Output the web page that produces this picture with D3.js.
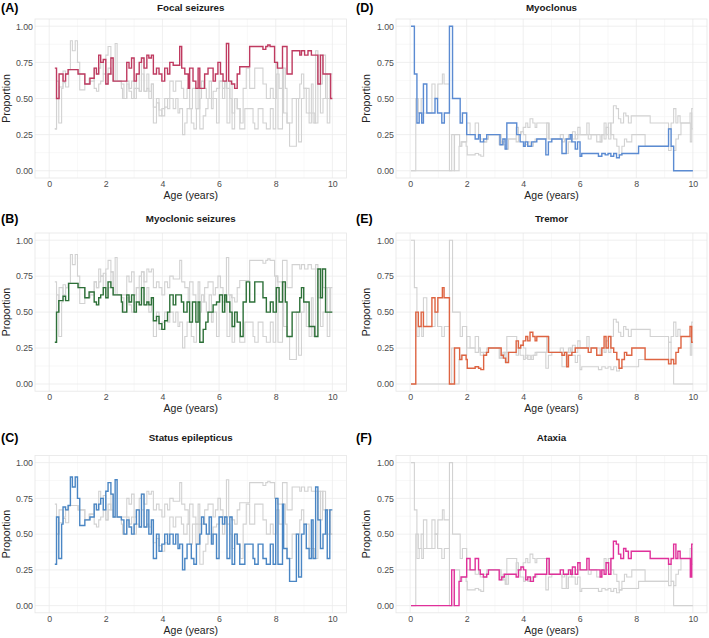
<!DOCTYPE html>
<html><head><meta charset="utf-8">
<script src="https://cdn.jsdelivr.net/npm/d3@7"></script>
<style>
html,body{margin:0;padding:0;background:#fff;}
svg{display:block;font-family:"Liberation Sans",Arial,sans-serif;}
</style></head>
<body><svg id="c" width="709" height="638"></svg>
<script>
// ---------- data (step series: value holds from age until next age) ----------
const focalAge = [0.20,0.26,0.35,0.49,0.58,0.67,1.02,1.26,1.44,1.59,1.67,1.75,1.82,1.91,2.00,2.08,2.18,2.26,2.74,2.82,2.91,3.00,3.08,3.18,3.26,3.35,3.45,3.52,3.61,3.68,3.79,3.88,3.98,4.08,4.18,4.26,4.38,4.61,4.68,4.79,4.91,4.96,5.08,5.18,5.26,5.32,5.49,5.61,5.79,5.87,5.96,6.05,6.14,6.26,6.34,6.44,6.55,6.64,6.73,7.08,7.55,7.65,7.72,7.80,7.96,8.06,8.24,8.40,8.58,8.85,8.91,9.02,9.14,9.26,9.49,9.58,9.67,9.76,9.94];
const focalVal = [0.71,0.50,0.67,0.62,0.67,0.70,0.67,0.60,0.64,0.71,0.67,0.80,0.75,0.77,0.60,0.67,0.78,0.62,0.75,0.71,0.78,0.62,0.67,0.75,0.78,0.71,0.80,0.78,0.80,0.67,0.71,0.67,0.62,0.71,0.67,0.75,0.73,0.86,0.71,0.67,0.57,0.71,0.62,0.57,0.71,0.57,0.67,0.71,0.62,0.67,0.75,0.67,0.62,0.88,0.62,0.60,0.57,0.67,0.72,0.86,0.84,0.86,0.87,0.86,0.75,0.71,0.86,0.67,0.83,0.80,0.83,0.80,0.83,0.80,0.60,0.80,0.67,0.67,0.50];

const myoSzAge = [0.20,0.26,0.34,0.49,0.58,0.69,1.02,1.26,1.41,1.59,1.67,1.75,1.82,1.91,2.00,2.08,2.18,2.26,2.55,2.59,2.74,2.82,2.91,3.00,3.08,3.18,3.26,3.35,3.45,3.52,3.61,3.68,3.79,3.88,3.98,4.08,4.18,4.26,4.38,4.47,4.67,4.75,4.87,4.96,5.06,5.18,5.26,5.32,5.44,5.53,5.61,5.79,5.91,6.02,6.12,6.20,6.26,6.38,6.46,6.55,6.64,6.75,6.85,6.96,7.08,7.26,7.55,7.67,7.81,7.91,8.02,8.12,8.24,8.34,8.40,8.58,8.85,8.91,8.99,9.18,9.38,9.49,9.58,9.65,9.76];
const myoSzVal = [0.29,0.50,0.58,0.61,0.58,0.70,0.67,0.60,0.64,0.57,0.55,0.60,0.62,0.67,0.60,0.71,0.67,0.62,0.57,0.50,0.62,0.57,0.62,0.50,0.57,0.55,0.67,0.55,0.57,0.55,0.60,0.44,0.47,0.42,0.38,0.44,0.50,0.62,0.55,0.62,0.57,0.50,0.57,0.43,0.57,0.43,0.57,0.29,0.38,0.43,0.50,0.55,0.57,0.62,0.50,0.62,0.57,0.50,0.40,0.50,0.43,0.33,0.57,0.71,0.57,0.71,0.60,0.50,0.57,0.50,0.67,0.57,0.71,0.57,0.33,0.50,0.60,0.67,0.57,0.40,0.33,0.80,0.60,0.80,0.50];

const statusAge = [0.20,0.26,0.34,0.44,0.49,0.58,0.67,0.75,0.82,0.92,1.00,1.08,1.26,1.44,1.59,1.67,1.75,1.82,1.91,2.00,2.08,2.18,2.26,2.33,2.40,2.55,2.64,2.74,2.82,2.91,3.00,3.08,3.18,3.26,3.35,3.45,3.52,3.61,3.68,3.79,3.88,3.98,4.08,4.18,4.26,4.38,4.47,4.55,4.61,4.71,4.79,4.87,5.02,5.11,5.20,5.32,5.38,5.46,5.55,5.65,5.73,5.79,5.91,6.00,6.12,6.20,6.28,6.38,6.46,6.55,6.64,6.73,6.91,7.20,7.26,7.38,7.55,7.67,7.81,7.91,8.00,8.08,8.24,8.28,8.40,8.49,8.73,8.81,8.91,9.00,9.08,9.18,9.26,9.32,9.41,9.49,9.58,9.67,9.76,9.82,9.91];
const statusVal = [0.29,0.62,0.33,0.57,0.69,0.67,0.70,0.90,0.83,0.90,0.75,0.56,0.60,0.62,0.71,0.67,0.71,0.75,0.67,0.80,0.86,0.78,0.62,0.88,0.62,0.60,0.50,0.60,0.55,0.50,0.57,0.67,0.55,0.78,0.55,0.67,0.50,0.60,0.33,0.50,0.38,0.43,0.50,0.43,0.50,0.43,0.50,0.40,0.43,0.25,0.33,0.43,0.33,0.29,0.43,0.50,0.62,0.57,0.50,0.62,0.43,0.50,0.33,0.62,0.57,0.62,0.33,0.62,0.29,0.50,0.43,0.29,0.43,0.33,0.29,0.43,0.33,0.29,0.43,0.29,0.75,0.29,0.71,0.40,0.33,0.17,0.50,0.20,0.50,0.57,0.40,0.33,0.60,0.33,0.83,0.60,0.40,0.50,0.67,0.33,0.67];

const myoclonusAge = [0.03,0.15,0.24,0.32,0.41,0.47,0.59,0.88,0.97,1.12,1.21,1.39,1.50,1.77,1.85,2.00,2.30,2.42,2.48,2.60,2.71,3.18,3.28,3.36,3.42,3.77,3.89,4.01,4.07,4.16,4.30,4.48,4.80,4.89,5.01,5.37,5.52,5.66,5.72,5.84,5.92,6.01,6.07,6.66,6.78,6.90,7.00,7.10,7.20,7.30,7.40,7.49,8.08,9.14,9.23,9.32];
const myoclonusVal = [1.00,0.67,0.33,0.40,0.33,0.60,0.40,0.50,0.40,0.33,0.40,1.00,0.50,0.33,0.40,0.25,0.22,0.25,0.20,0.22,0.25,0.18,0.22,0.15,0.33,0.25,0.20,0.17,0.20,0.17,0.20,0.22,0.11,0.20,0.22,0.12,0.22,0.25,0.20,0.15,0.20,0.10,0.12,0.10,0.12,0.11,0.12,0.10,0.12,0.09,0.11,0.12,0.17,0.29,0.17,0.00];

const tremorAge = [0.03,0.20,0.29,0.39,0.47,0.77,0.88,0.98,1.14,1.20,1.39,1.57,1.75,1.83,1.98,2.02,2.30,2.42,2.50,2.60,2.70,2.77,3.22,3.30,3.38,3.48,3.75,3.83,3.91,4.00,4.09,4.16,4.24,4.34,4.42,4.48,4.89,5.37,5.46,5.54,5.60,5.72,5.84,6.30,6.40,6.60,6.78,6.86,6.93,7.01,7.10,7.20,7.31,7.39,7.49,7.58,7.66,7.84,8.31,9.14,9.23,9.32,9.40,9.49,9.58,9.90,9.96];
const tremorVal = [0.00,0.50,0.40,0.50,0.40,0.60,0.50,0.60,0.67,0.60,0.00,0.25,0.17,0.20,0.17,0.11,0.12,0.11,0.10,0.20,0.22,0.25,0.20,0.18,0.15,0.22,0.30,0.25,0.27,0.30,0.33,0.30,0.36,0.33,0.30,0.33,0.22,0.20,0.22,0.12,0.20,0.22,0.25,0.22,0.25,0.20,0.25,0.33,0.25,0.33,0.25,0.22,0.17,0.11,0.17,0.22,0.20,0.25,0.17,0.14,0.17,0.14,0.22,0.25,0.33,0.40,0.29];

const ataxiaAge = [0.03,1.47,1.56,1.73,1.80,2.00,2.12,2.30,2.42,2.48,2.59,2.71,2.77,3.15,3.24,3.33,3.75,3.83,3.92,4.01,4.09,4.16,4.25,4.36,4.42,4.83,4.92,5.31,5.42,5.60,5.68,5.74,5.84,5.93,6.01,6.25,6.33,6.72,6.78,6.86,6.93,7.02,7.10,7.19,7.29,7.37,7.45,7.55,7.63,7.72,7.82,8.49,9.14,9.23,9.32,9.40,9.47,9.55,9.91,9.96];
const ataxiaVal = [0.00,0.25,0.00,0.17,0.20,0.33,0.25,0.33,0.25,0.22,0.20,0.22,0.25,0.18,0.20,0.22,0.20,0.25,0.27,0.25,0.18,0.20,0.17,0.20,0.22,0.33,0.22,0.25,0.22,0.25,0.22,0.27,0.22,0.30,0.25,0.33,0.25,0.20,0.25,0.22,0.30,0.22,0.33,0.45,0.43,0.36,0.33,0.40,0.38,0.33,0.38,0.33,0.29,0.33,0.43,0.33,0.38,0.33,0.20,0.43];

const xTicks = [0,2,4,6,8,10];
const yTicks = [0,0.25,0.5,0.75,1];

const panels = [
  {tag:"(A)", title:"Focal seizures",       col:0,row:0, group:["focal","myoSz","status"],      hi:"focal",     color:"#bf3a60"},
  {tag:"(B)", title:"Myoclonic seizures",   col:0,row:1, group:["focal","myoSz","status"],      hi:"myoSz",     color:"#2d7038"},
  {tag:"(C)", title:"Status epilepticus",   col:0,row:2, group:["focal","myoSz","status"],      hi:"status",    color:"#4a86c4"},
  {tag:"(D)", title:"Myoclonus",            col:1,row:0, group:["myoclonus","tremor","ataxia"], hi:"myoclonus", color:"#5b8bd2"},
  {tag:"(E)", title:"Tremor",               col:1,row:1, group:["myoclonus","tremor","ataxia"], hi:"tremor",    color:"#de6442"},
  {tag:"(F)", title:"Ataxia",               col:1,row:2, group:["myoclonus","tremor","ataxia"], hi:"ataxia",    color:"#e0309a"}
];

const series = {
  focal: d3.zip(focalAge, focalVal),
  myoSz: d3.zip(myoSzAge, myoSzVal),
  status: d3.zip(statusAge, statusVal),
  myoclonus: d3.zip(myoclonusAge, myoclonusVal),
  tremor: d3.zip(tremorAge, tremorVal),
  ataxia: d3.zip(ataxiaAge, ataxiaVal)
};
// extend last step to age 10
Object.values(series).forEach(s => s.push([10, s[s.length-1][1]]));

// ---------- layout ----------
const colX = [[35,346.5],[396,707]];
const rowY = [[19,178],[233,391.2],[455.5,612.8]];
const tagY = [11,222,441];

const svg = d3.select("#c");

panels.forEach(p => {
  const [x0,x1] = colX[p.col];
  const [y0,y1] = rowY[p.row];
  const x = d3.scaleLinear().domain([-0.5,10.5]).range([x0,x1]);
  const y = d3.scaleLinear().domain([-0.05,1.05]).range([y1,y0]);
  const g = svg.append("g");

  // minor grid
  const minorX = [1,3,5,7,9];
  const minorY = [0.125,0.375,0.625,0.875];
  g.selectAll(null).data(minorX).enter().append("line")
    .attr("x1",d=>x(d)).attr("x2",d=>x(d)).attr("y1",y0).attr("y2",y1)
    .attr("stroke","#f4f4f4").attr("stroke-width",0.6);
  g.selectAll(null).data(minorY).enter().append("line")
    .attr("y1",d=>y(d)).attr("y2",d=>y(d)).attr("x1",x0).attr("x2",x1)
    .attr("stroke","#f4f4f4").attr("stroke-width",0.6);
  // major grid
  g.selectAll(null).data(xTicks).enter().append("line")
    .attr("x1",d=>x(d)).attr("x2",d=>x(d)).attr("y1",y0).attr("y2",y1)
    .attr("stroke","#ebebeb").attr("stroke-width",0.8);
  g.selectAll(null).data(yTicks).enter().append("line")
    .attr("y1",d=>y(d)).attr("y2",d=>y(d)).attr("x1",x0).attr("x2",x1)
    .attr("stroke","#ebebeb").attr("stroke-width",0.8);
  // border
  g.append("rect").attr("x",x0).attr("y",y0).attr("width",x1-x0).attr("height",y1-y0)
    .attr("fill","none").attr("stroke","#e6e6e6").attr("stroke-width",0.8);

  // axes (labels only)
  const ax = d3.axisBottom(x).tickValues(xTicks).tickFormat(d3.format("d")).tickSize(0).tickPadding(2.5);
  const axg = g.append("g").attr("transform",`translate(0,${y1})`).call(ax);
  const ay = d3.axisLeft(y).tickValues(yTicks).tickFormat(d3.format(".2f")).tickSize(0).tickPadding(2);
  const ayg = g.append("g").attr("transform",`translate(${x0},0)`).call(ay);
  [axg,ayg].forEach(a => {
    a.select(".domain").remove();
    a.selectAll("text").attr("fill","#4d4d4d").style("font-size","8.8px");
  });

  // lines
  const line = d3.line().x(d=>x(d[0])).y(d=>y(d[1])).curve(d3.curveStepAfter);
  p.group.filter(k=>k!==p.hi).forEach(k => {
    g.append("path").datum(series[k]).attr("d",line)
      .attr("fill","none").attr("stroke","#d2d2d2").attr("stroke-width",1.1);
  });
  g.append("path").datum(series[p.hi]).attr("d",line)
    .attr("fill","none").attr("stroke",p.color).attr("stroke-width",1.4);

  // texts
  const cx = (x0+x1)/2;
  g.append("text").attr("x",cx).attr("y",tagY[p.row]).attr("text-anchor","middle")
    .style("font-size","9.8px").style("font-weight","bold").attr("fill","#1a1a1a").text(p.title);
  g.append("text").attr("x",p.col===0?1:356).attr("y",tagY[p.row]+1).style("font-size","12.5px")
    .style("font-weight","bold").attr("fill","#000").text(p.tag);
  g.append("text").attr("x",cx).attr("y",y1+21).attr("text-anchor","middle")
    .style("font-size","10.5px").attr("fill","#222").text("Age (years)");
  const px = p.col===0?10:370;
  g.append("text").attr("transform",`translate(${px},${(y0+y1)/2}) rotate(-90)`)
    .attr("text-anchor","middle").style("font-size","10.5px").attr("fill","#222").text("Proportion");
});
</script></body></html>
